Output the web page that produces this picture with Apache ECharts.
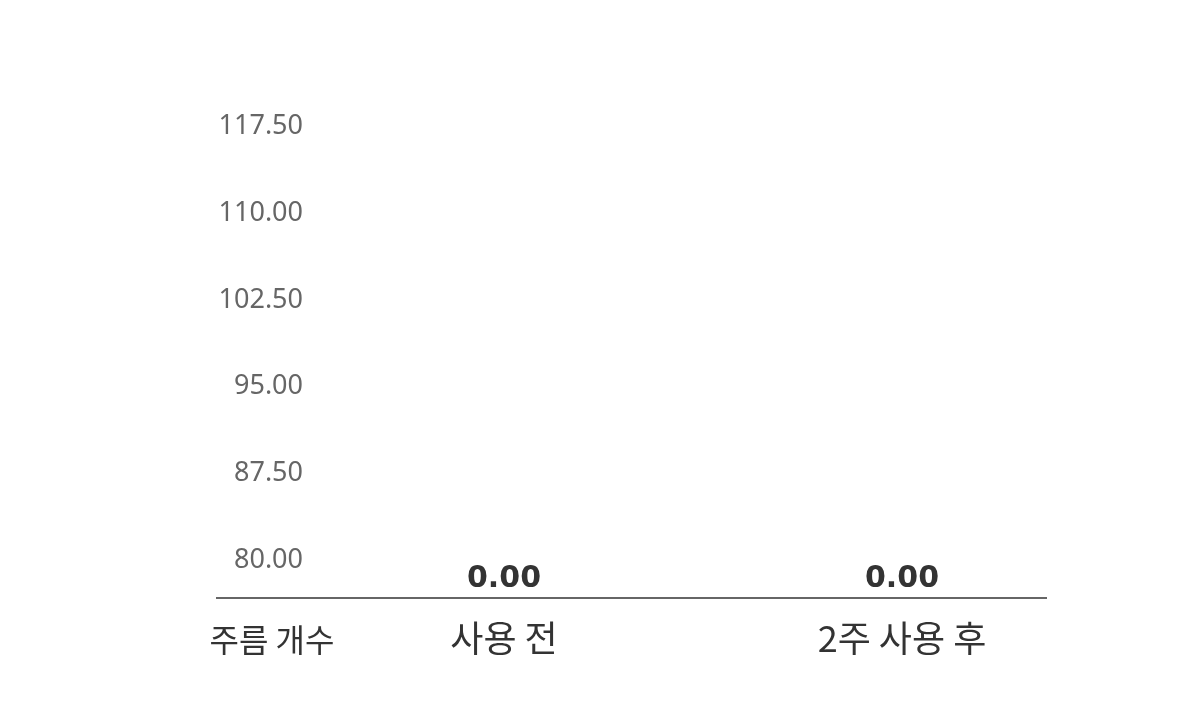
<!DOCTYPE html>
<html><head><meta charset="utf-8">
<script src="https://cdn.jsdelivr.net/npm/echarts@6/dist/echarts.min.js"></script>
<style>html,body{margin:0;padding:0;background:#fff}#c{width:1200px;height:707px}</style>
</head><body><div id="c"></div>
<script>
const categories = ['사용 전', '2주 사용 후'];
const values = [0, 0];
const yMin = 80, yMax = 125, yStep = 7.5;
const axisTitle = '주름 개수';

const chart = echarts.init(document.getElementById('c'));
chart.setOption({
  animation: false,
  backgroundColor: '#fff',
  grid: [
    {left: 305, right: 99, top: 40, bottom: 147},
    {left: 305, right: 99, top: 37, bottom: 109}
  ],
  xAxis: [
    {gridIndex: 0, type: 'category', data: categories, show: false},
    {gridIndex: 1, type: 'category', data: categories,
     axisLine: {show: false}, axisTick: {show: false},
     axisLabel: {margin: 22, fontSize: 36, color: '#333', fontFamily: 'Noto Sans CJK KR'}}
  ],
  yAxis: [
    {gridIndex: 0, type: 'value', min: yMin, max: yMax, interval: yStep,
     axisLine: {show: false}, axisTick: {show: false}, splitLine: {show: false},
     axisLabel: {showMaxLabel: false, margin: 2, fontSize: 27, color: '#666', fontFamily: 'Noto Sans',
       formatter: v => v.toFixed(2)}},
    {gridIndex: 1, type: 'value', min: 0, max: 1, show: false}
  ],
  series: [{
    type: 'bar', xAxisIndex: 1, yAxisIndex: 1, data: values, barWidth: 60,
    itemStyle: {color: '#c9b8a8'},
    label: {show: true, position: 'top', distance: 4, fontSize: 30, fontWeight: 'bold',
      color: '#333', fontFamily: 'DejaVu Sans', formatter: p => p.value.toFixed(2)}
  }],
  graphic: [
    {type: 'line', shape: {x1: 216, y1: 598, x2: 1047, y2: 598}, style: {stroke: '#333', lineWidth: 1.5}},
    {type: 'text', x: 272, y: 640, style: {text: axisTitle, fontSize: 32, fill: '#333',
      fontFamily: 'Noto Sans CJK KR', align: 'center', verticalAlign: 'middle'}}
  ]
});
</script></body></html>
